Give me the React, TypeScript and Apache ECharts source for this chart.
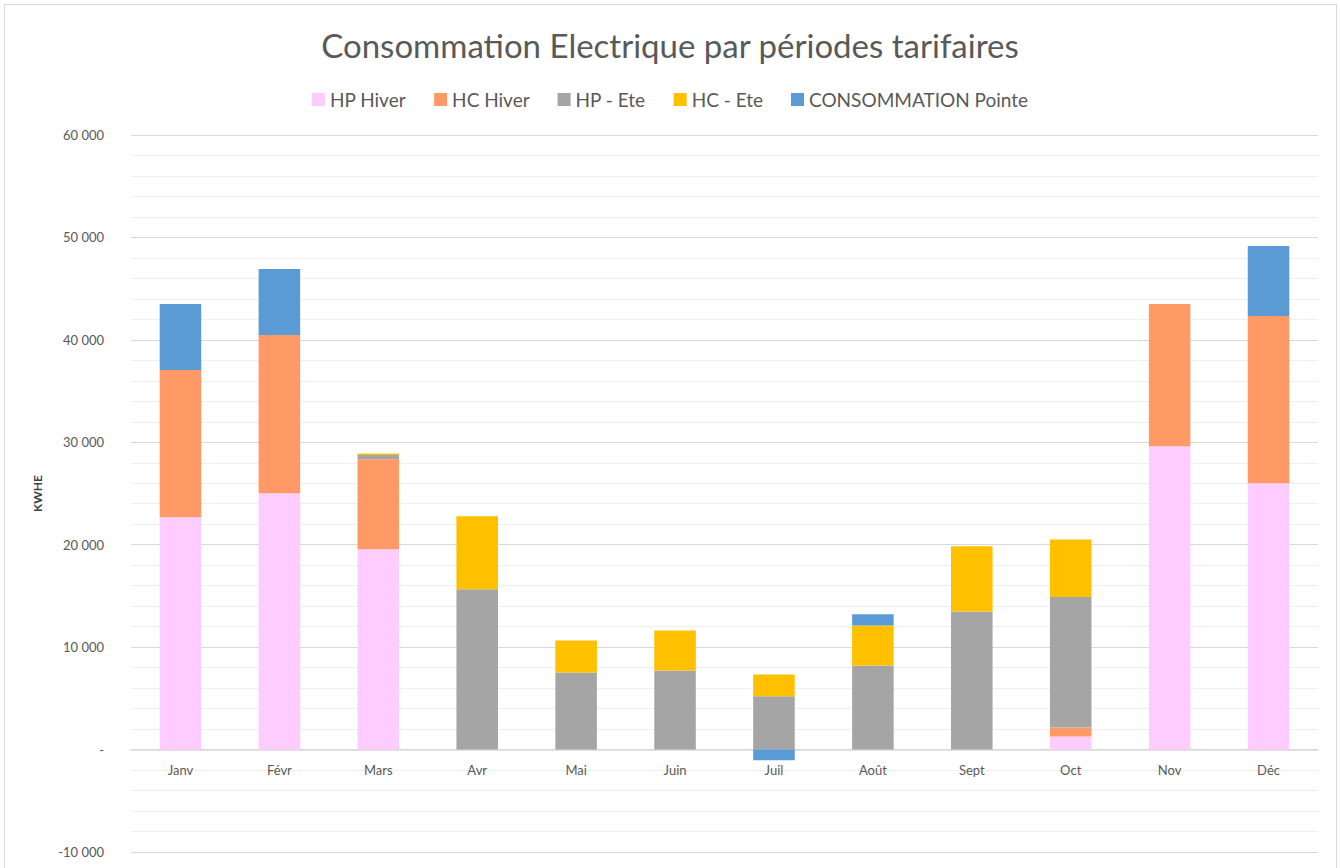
import React, { useEffect, useRef } from "react";
import * as echarts from "echarts";

const months = ["Janv", "Févr", "Mars", "Avr", "Mai", "Juin", "Juil", "Août", "Sept", "Oct", "Nov", "Déc"];
const hpHiver = [22680, 25020, 19550, 0, 0, 0, 0, 0, 0, 1270, 29620, 26000];
const hcHiver = [14370, 15450, 8800, 0, 0, 0, 0, 0, 0, 880, 13880, 16330];
const hpEte = [0, 0, 400, 15640, 7530, 7720, 5210, 8210, 13490, 12740, 0, 0];
const hcEte = [0, 0, 150, 7140, 3120, 3910, 2120, 3910, 6350, 5610, 0, 0];
const pointe = [6450, 6450, 0, 0, 0, 0, -1050, 1080, 0, 0, 0, 6840];

const seriesNames = ["HP Hiver", "HC Hiver", "HP - Ete", "HC - Ete", "CONSOMMATION Pointe"];
const seriesColors = ["#FFCCFF", "#FF9966", "#A5A5A5", "#FFC000", "#5B9BD5"];

export default function App() {
  const ref = useRef<HTMLDivElement>(null);
  useEffect(() => {
    document.body.style.margin = "0";
    const chart = echarts.init(ref.current!, null, { renderer: "svg" });
    const data = [hpHiver, hcHiver, hpEte, hcEte, pointe];
    const font = "Lato, 'Open Sans', sans-serif";
    chart.setOption({
      animation: false,
      textStyle: { fontFamily: font },
      title: {
        text: "Consommation Electrique par périodes tarifaires",
        left: "center",
        top: 23,
        textStyle: { fontFamily: font, fontSize: 33, fontWeight: "normal", color: "#595959" },
      },
      legend: {
        top: 85,
        left: "center",
        itemWidth: 13,
        itemHeight: 13,
        itemGap: 28,
        icon: "rect",
        textStyle: { fontFamily: font, fontSize: 19, color: "#595959" },
        data: seriesNames,
      },
      grid: { left: 131, right: 22, top: 135, bottom: 16, containLabel: false, outerBoundsMode: "none" },
      xAxis: {
        type: "category",
        data: months,
        axisLine: { onZero: true, lineStyle: { color: "#D9D9D9", width: 1.5 } },
        axisTick: { show: false },
        axisLabel: { color: "#595959", fontSize: 13, margin: -89, fontFamily: font, verticalAlign: "top" },
      },
      yAxis: {
        type: "value",
        min: -10000,
        max: 60000,
        interval: 10000,
        name: "KWHE",
        nameLocation: "middle",
        nameGap: 88,
        nameRotate: 90,
        nameTextStyle: { color: "#404040", fontSize: 12, fontWeight: "bold", fontFamily: font },
        axisLine: { show: false },
        axisTick: { show: false },
        axisLabel: {
          color: "#595959",
          fontSize: 13,
          margin: 27,
          fontFamily: font,
          formatter: (v: number) => {
            if (v === 0) return "-";
            const s = Math.abs(v).toString().replace(/\B(?=(\d{3})+(?!\d))/g, " ");
            return (v < 0 ? "-" : "") + s;
          },
        },
        splitLine: { lineStyle: { color: "#D9D9D9", width: 1 } },
        minorTick: { show: false, splitNumber: 5 },
        minorSplitLine: { show: true, lineStyle: { color: "#EFEFEF", width: 1 } },
      },
      series: seriesNames.map((name, i) => ({
        name,
        type: "bar",
        stack: "total",
        barWidth: "42%",
        itemStyle: { color: seriesColors[i] },
        data: data[i],
      })),
    });
    return () => chart.dispose();
  }, []);
  return (
    <div
      style={{
        position: "relative",
        width: 1340,
        height: 868,
        background: "#fff",
        boxSizing: "border-box",
        overflow: "hidden",
      }}
    >
      <div
        style={{
          position: "absolute",
          left: 4,
          top: 4,
          width: 1333,
          height: 880,
          border: "1.5px solid #D9D9D9",
          boxSizing: "border-box",
        }}
      />
      <div ref={ref} style={{ position: "absolute", left: 0, top: 0, width: 1340, height: 868 }} />
    </div>
  );
}
